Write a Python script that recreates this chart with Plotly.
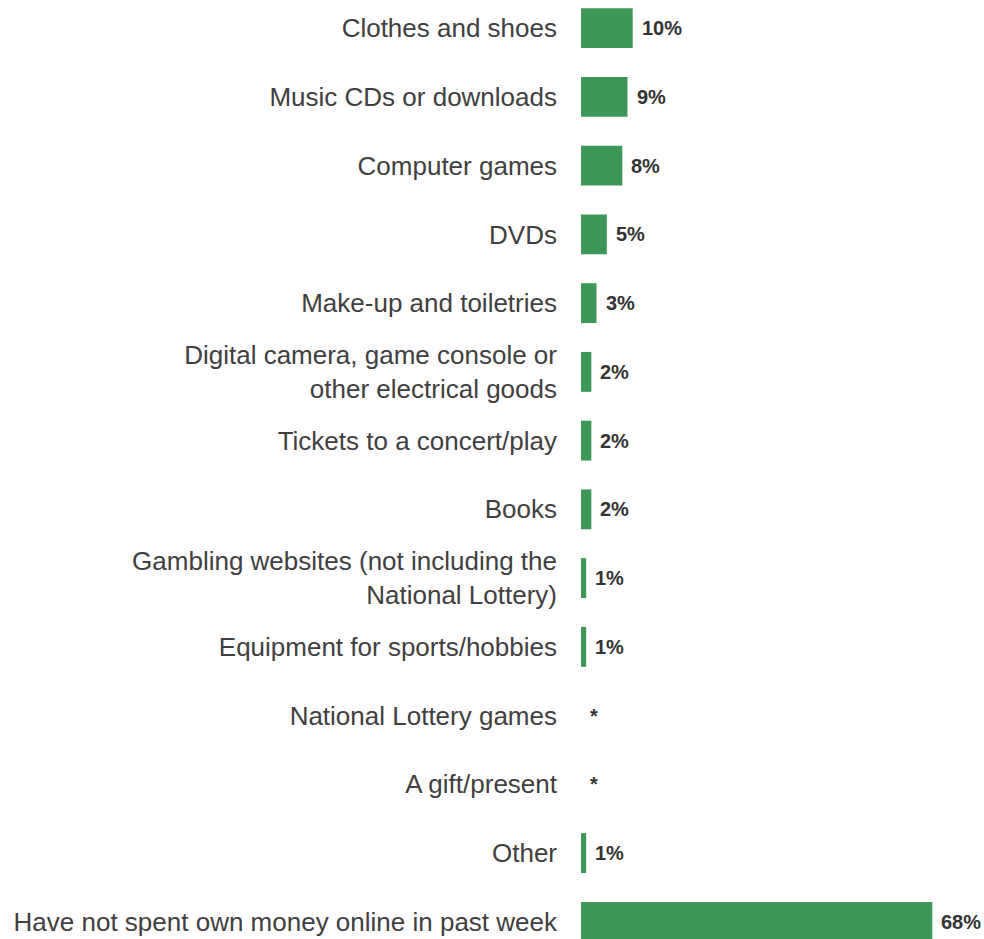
import plotly.graph_objects as go

# Where young people spent their own money online in the past week
categories = [
    "Clothes and shoes",
    "Music CDs or downloads",
    "Computer games",
    "DVDs",
    "Make-up and toiletries",
    "Digital camera, game console or<br>other electrical goods",
    "Tickets to a concert/play",
    "Books",
    "Gambling websites (not including the<br>National Lottery)",
    "Equipment for sports/hobbies",
    "National Lottery games",
    "A gift/present",
    "Other",
    "Have not spent own money online in past week",
]
percent = [10, 9, 8, 5, 3, 2, 2, 2, 1, 1, 0, 0, 1, 68]
value_labels = ["10%", "9%", "8%", "5%", "3%", "2%", "2%", "2%", "1%", "1%",
                "*", "*", "1%", "68%"]

BAR_GREEN = "#3d9858"
LABEL_GREY = "#404040"
VALUE_GREY = "#333333"
FONT = "Liberation Sans, Arial, sans-serif"

fig = go.Figure(
    go.Bar(
        x=percent,
        y=categories,
        orientation="h",
        marker=dict(color=BAR_GREEN, line=dict(width=0)),
        width=0.58,
        hoverinfo="skip",
    )
)

# value labels placed just past the end of each bar
for cat, val, lab in zip(categories, percent, value_labels):
    fig.add_annotation(
        x=val,
        y=cat,
        text=f"<b>{lab}</b>",
        showarrow=False,
        xanchor="left",
        yanchor="middle",
        xshift=7,
        font=dict(family=FONT, size=20, color=VALUE_GREY),
    )

fig.update_layout(
    width=984,
    height=939,
    margin=dict(l=581, r=0, t=0, b=0),
    paper_bgcolor="white",
    plot_bgcolor="white",
    showlegend=False,
    font=dict(family=FONT, size=26, color=LABEL_GREY),
    xaxis=dict(
        range=[0, 78],
        visible=False,
        showgrid=False,
        zeroline=False,
        fixedrange=True,
    ),
    yaxis=dict(
        type="category",
        categoryorder="array",
        categoryarray=categories,
        range=[13.25, -0.41],
        showgrid=False,
        zeroline=False,
        showline=False,
        ticks="",
        ticklabelstandoff=23,
        tickfont=dict(family=FONT, size=26, color=LABEL_GREY),
        fixedrange=True,
    ),
)

fig.write_html("out.html")
